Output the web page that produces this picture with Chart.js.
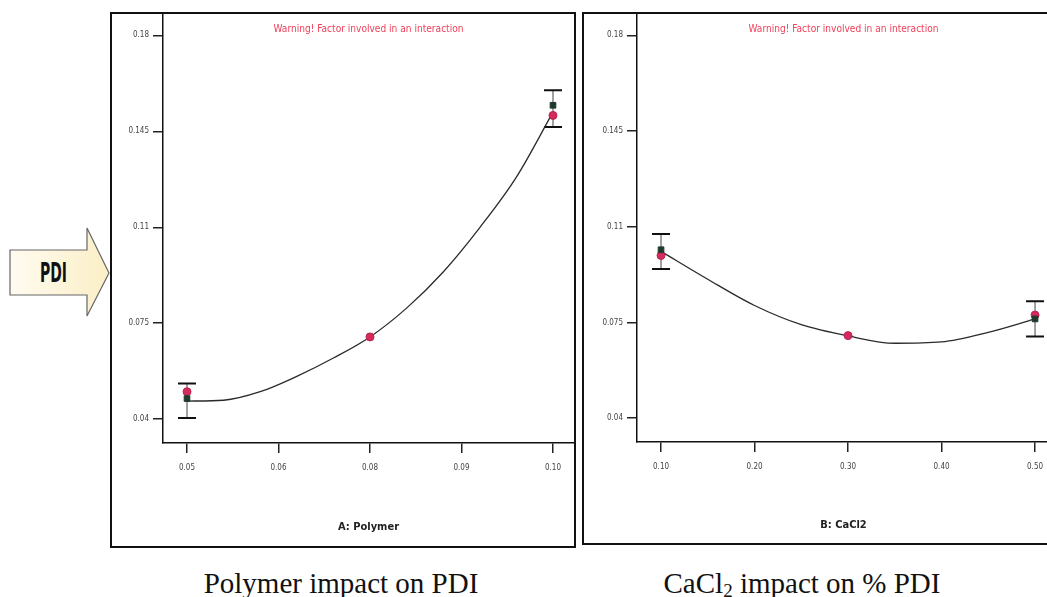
<!DOCTYPE html>
<html>
<head>
<meta charset="utf-8">
<script src="https://cdn.jsdelivr.net/npm/chart.js@4/dist/chart.umd.min.js"></script>
<style>
  html, body { margin: 0; padding: 0; background: #fff; }
  body { width: 1047px; height: 597px; position: relative; overflow: hidden; }
  .painel { position: absolute; border: 2px solid #111; background: #fff; }
  #painelA { left: 110px; top: 12px; width: 462px; height: 532px; }
  #painelB { left: 582px; top: 12px; width: 466px; height: 529px; }
  .painel canvas { display: block; }
  .legenda {
    position: absolute; top: 569px; width: 400px; text-align: center;
    font-family: 'Liberation Serif', 'Times New Roman', serif; font-size: 29px;
    line-height: 29px; color: #111; white-space: nowrap;
  }
  .legenda sub { font-size: 19px; vertical-align: -4px; line-height: 0; }
  #seta { position: absolute; left: 0; top: 220px; }
</style>
</head>
<body>

<svg id="seta" width="115" height="102" viewBox="0 220 115 102">
  <defs>
    <linearGradient id="fundoSeta" x1="0" x2="1" y1="0" y2="0">
      <stop offset="0" stop-color="#fffbf0"/>
      <stop offset="1" stop-color="#fbefc6"/>
    </linearGradient>
  </defs>
  <polygon points="10,250 87,250 87,228 109,273 87,316 87,295 10,295"
           fill="url(#fundoSeta)" stroke="#666" stroke-width="1.2"/>
  <text x="40" y="282" textLength="27" lengthAdjust="spacingAndGlyphs"
        font-family="'Liberation Sans Narrow', 'DejaVu Sans Condensed', 'Liberation Sans', sans-serif"
        font-weight="bold" font-size="27" fill="#111">PDI</text>
</svg>

<div class="painel" id="painelA"><canvas id="graficoPolimero" width="462" height="532"></canvas></div>
<div class="painel" id="painelB"><canvas id="graficoCacl2" width="466" height="529"></canvas></div>

<div class="legenda" style="left:141px;">Polymer impact on PDI</div>
<div class="legenda" style="left:602px;">CaCl<sub>2</sub> impact on % PDI</div>

<script>
// Eixo Y comum (PDI)
const pdiTickValues = [0.04, 0.075, 0.11, 0.145, 0.18];
const pdiTickLabels = ['0.04', '0.075', '0.11', '0.145', '0.18'];

// A: Polymer
const polymerTickValues = [0.05, 0.0625, 0.075, 0.0875, 0.10];
const polymerTickLabels = ['0.05', '0.06', '0.08', '0.09', '0.10'];
const polymerCurveX = [0.050, 0.055, 0.060, 0.065, 0.070, 0.075, 0.080, 0.085, 0.090, 0.095, 0.100];
const polymerCurveY = [0.0466, 0.0469, 0.0500, 0.0556, 0.0623, 0.0700, 0.0805, 0.0937, 0.1099, 0.1283, 0.1520];
const polymerActualX = [0.05, 0.075, 0.10];
const polymerActualY = [0.0500, 0.0700, 0.1508];
const polymerPredX = [0.05, 0.10];
const polymerPredY = [0.0475, 0.1545];
const polymerBarLow = [0.0404, 0.1466];
const polymerBarHigh = [0.0530, 0.1600];

// B: CaCl2
const cacl2TickValues = [0.10, 0.20, 0.30, 0.40, 0.50];
const cacl2TickLabels = ['0.10', '0.20', '0.30', '0.40', '0.50'];
const cacl2CurveX = [0.10, 0.15, 0.20, 0.25, 0.30, 0.35, 0.40, 0.45, 0.50];
const cacl2CurveY = [0.1010, 0.0908, 0.0812, 0.0742, 0.0701, 0.0674, 0.0679, 0.0714, 0.0763];
const cacl2ActualX = [0.10, 0.30, 0.50];
const cacl2ActualY = [0.0995, 0.0702, 0.0777];
const cacl2PredX = [0.10, 0.50];
const cacl2PredY = [0.1016, 0.0763];
const cacl2BarLow = [0.0946, 0.0699];
const cacl2BarHigh = [0.1074, 0.0828];

const fonteEstreita = "'Liberation Sans Narrow', 'DejaVu Sans Condensed', 'Liberation Sans', sans-serif";

/**
 * Junta dois arrays em pontos {x, y}.
 */
function pontos(xs, ys) {
  return xs.map((x, i) => ({ x: x, y: ys[i] }));
}

/**
 * Barras de erro (LSD) desenhadas antes dos marcadores.
 */
function barrasErro(xs, low, high) {
  return {
    id: 'barrasErro',
    beforeDatasetsDraw(chart) {
      const { ctx } = chart;
      const sx = chart.scales.x;
      const sy = chart.scales.y;
      ctx.save();
      xs.forEach((xv, i) => {
        const px = sx.getPixelForValue(xv);
        const top = sy.getPixelForValue(high[i]);
        const bottom = sy.getPixelForValue(low[i]);
        ctx.strokeStyle = '#444';
        ctx.lineWidth = 1;
        ctx.beginPath();
        ctx.moveTo(px, top);
        ctx.lineTo(px, bottom);
        ctx.stroke();
        ctx.strokeStyle = '#111';
        ctx.lineWidth = 2;
        ctx.beginPath();
        ctx.moveTo(px - 9, top);
        ctx.lineTo(px + 9, top);
        ctx.moveTo(px - 9, bottom);
        ctx.lineTo(px + 9, bottom);
        ctx.stroke();
      });
      ctx.restore();
    }
  };
}

/**
 * Aviso vermelho no topo da área do gráfico.
 */
const avisoInteracao = {
  id: 'avisoInteracao',
  afterDraw(chart) {
    const { ctx, chartArea } = chart;
    const texto = 'Warning! Factor involved in an interaction';
    ctx.save();
    ctx.font = `11px ${fonteEstreita}`;
    const largura = ctx.measureText(texto).width;
    const escala = 190 / largura;
    ctx.translate((chartArea.left + chartArea.right) / 2, chartArea.top + 15);
    ctx.scale(escala, 1);
    ctx.fillStyle = '#f0405a';
    ctx.textAlign = 'center';
    ctx.textBaseline = 'middle';
    ctx.fillText(texto, 0, 0);
    ctx.restore();
  }
};

/**
 * Cria um gráfico de efeito de um fator sobre o PDI.
 */
function criarGrafico(canvasId, cfg) {
  const ctx = document.getElementById(canvasId).getContext('2d');
  return new Chart(ctx, {
    type: 'scatter',
    data: {
      datasets: [
        {
          label: 'Modelo',
          data: pontos(cfg.curveX, cfg.curveY),
          showLine: true,
          cubicInterpolationMode: 'monotone',
          borderColor: '#2a2a2a',
          borderWidth: 1.3,
          pointRadius: 0,
          order: 3
        },
        {
          label: 'Previsto',
          data: pontos(cfg.predX, cfg.predY),
          pointStyle: 'rect',
          pointRadius: 4,
          backgroundColor: '#1f3a2c',
          borderColor: '#1f3a2c',
          order: 1
        },
        {
          label: 'Observado',
          data: pontos(cfg.actualX, cfg.actualY),
          pointStyle: 'circle',
          pointRadius: 4,
          backgroundColor: '#d42a5c',
          borderColor: '#b8234f',
          borderWidth: 1,
          order: 2
        }
      ]
    },
    options: {
      responsive: false,
      animation: false,
      layout: { padding: 0, autoPadding: false },
      plugins: {
        legend: { display: false },
        tooltip: { enabled: false }
      },
      scales: {
        x: {
          type: 'linear',
          min: cfg.xMin,
          max: cfg.xMax,
          afterBuildTicks: (axis) => { axis.ticks = cfg.xTicks.map(v => ({ value: v })); },
          afterFit: (axis) => {
            axis.height = cfg.xAxisHeight;
            axis.paddingLeft = 0;
            axis.paddingRight = 0;
          },
          grid: { drawOnChartArea: false, drawTicks: true, tickLength: 10, color: '#222', lineWidth: 1.5 },
          border: { display: true, color: '#111', width: 1.5 },
          ticks: {
            callback: (v, i) => cfg.xLabels[i],
            autoSkip: false,
            maxRotation: 0,
            padding: 10,
            color: '#444',
            font: { family: fonteEstreita, size: 8 }
          },
          title: {
            display: true,
            text: cfg.xTitle,
            color: '#222',
            font: { family: fonteEstreita, size: 11, weight: 'bold' },
            padding: { top: 4, bottom: cfg.titleBottom }
          }
        },
        y: {
          type: 'linear',
          min: 0.0313,
          max: 0.1878,
          afterBuildTicks: (axis) => { axis.ticks = pdiTickValues.map(v => ({ value: v })); },
          afterFit: (axis) => {
            axis.width = cfg.yAxisWidth;
            axis.paddingTop = 0;
            axis.paddingBottom = 0;
          },
          grid: { drawOnChartArea: false, drawTicks: true, tickLength: 10, color: '#222', lineWidth: 1.5 },
          border: { display: true, color: '#111', width: 1.5 },
          ticks: {
            callback: (v, i) => pdiTickLabels[i],
            autoSkip: false,
            padding: 4,
            color: '#444',
            font: { family: fonteEstreita, size: 8 }
          }
        }
      }
    },
    plugins: [barrasErro(cfg.predX, cfg.barLow, cfg.barHigh), avisoInteracao]
  });
}

criarGrafico('graficoPolimero', {
  xMin: 0.04672, xMax: 0.10287,
  xTicks: polymerTickValues, xLabels: polymerTickLabels,
  xTitle: 'A: Polymer',
  curveX: polymerCurveX, curveY: polymerCurveY,
  actualX: polymerActualX, actualY: polymerActualY,
  predX: polymerPredX, predY: polymerPredY,
  barLow: polymerBarLow, barHigh: polymerBarHigh,
  xAxisHeight: 103, yAxisWidth: 51, titleBottom: 12
});

criarGrafico('graficoCacl2', {
  xMin: 0.0743, xMax: 0.516,
  xTicks: cacl2TickValues, xLabels: cacl2TickLabels,
  xTitle: 'B: CaCl2',
  curveX: cacl2CurveX, curveY: cacl2CurveY,
  actualX: cacl2ActualX, actualY: cacl2ActualY,
  predX: cacl2PredX, predY: cacl2PredY,
  barLow: cacl2BarLow, barHigh: cacl2BarHigh,
  xAxisHeight: 101, yAxisWidth: 53, titleBottom: 11
});
</script>
</body>
</html>
